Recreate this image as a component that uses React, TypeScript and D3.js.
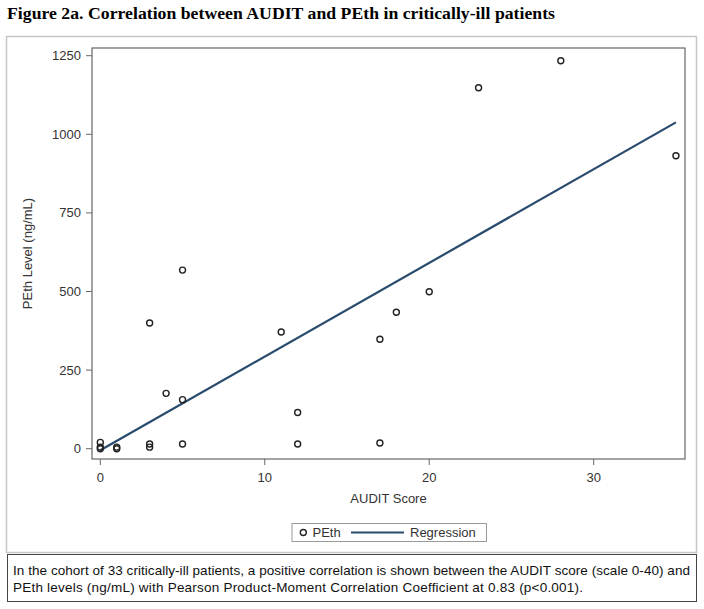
import React from 'react'
import * as d3 from 'd3'

// values
const auditScores = [0, 0, 0, 1, 1, 3, 3, 3, 4, 5, 5, 5, 11, 12, 12, 17, 17, 18, 20, 23, 28, 35]
const pethLevels = [20, 5, 0, 5, 0, 15, 5, 400, 176, 156, 568, 15, 371, 115, 15, 348, 18, 434, 499, 1148, 1234, 932]
const xTicks = [0, 10, 20, 30]
const yTicks = [0, 250, 500, 750, 1000, 1250]
const regIntercept = -5
const regSlope = 29.8
const regRange = [0, 35]

const title = 'Figure 2a. Correlation between AUDIT and PEth in critically-ill patients'
const captionLines = [
  'In the cohort of 33 critically-ill patients, a positive correlation is shown between the AUDIT score (scale 0-40) and',
  'PEth levels (ng/mL) with Pearson Product-Moment Correlation Coefficient at 0.83 (p<0.001).',
]
const captionWidths = [677, 570]

const W = 704
const H = 609
const plot = { left: 92, right: 685, top: 48, bottom: 459 }
const sans = 'Arial, "Liberation Sans", sans-serif'
const lineColor = '#284a6c'

const App = () => {
  const x = d3.scaleLinear().domain([0, 30]).range([100.3, 593.7])
  const y = d3.scaleLinear().domain([0, 1250]).range([448.7, 55.7])

  const points = auditScores.map((a, i) => ({ a, p: pethLevels[i] }))
  const reg = d3
    .line<number>()
    .x((d) => x(d))
    .y((d) => y(regIntercept + regSlope * d))

  return (
    <svg width={W} height={H} style={{ position: 'absolute', left: 0, top: 0, background: '#fff' }}>
      <text
        x={7}
        y={18.5}
        fontFamily='"Liberation Serif", "Times New Roman", serif'
        fontWeight="bold"
        fontSize={17.7}
        textLength={548}
        lengthAdjust="spacing"
        fill="#000"
      >
        {title}
      </text>

      {/* outer graph frame */}
      <rect x={6.5} y={36.5} width={690} height={516} fill="none" stroke="#c6c6c6" strokeWidth={1.5} />

      {/* plot area */}
      <rect x={plot.left} y={plot.top} width={plot.right - plot.left} height={plot.bottom - plot.top} fill="none" stroke="#666" strokeWidth={1.2} />

      {/* y axis */}
      {yTicks.map((t) => (
        <g key={'y' + t}>
          <line x1={plot.left - 6} x2={plot.left} y1={y(t)} y2={y(t)} stroke="#666" />
          <text x={plot.left - 11} y={y(t)} dy="0.35em" textAnchor="end" fontFamily={sans} fontSize={13} fill="#333">
            {t}
          </text>
        </g>
      ))}
      <text
        transform={`translate(32,${(plot.top + plot.bottom) / 2}) rotate(-90)`}
        textAnchor="middle"
        fontFamily={sans}
        fontSize={13}
        fill="#333"
      >
        PEth Level (ng/mL)
      </text>

      {/* x axis */}
      {xTicks.map((t) => (
        <g key={'x' + t}>
          <line x1={x(t)} x2={x(t)} y1={plot.bottom} y2={plot.bottom + 6} stroke="#666" />
          <text x={x(t)} y={482} textAnchor="middle" fontFamily={sans} fontSize={13} fill="#333">
            {t}
          </text>
        </g>
      ))}
      <text x={(plot.left + plot.right) / 2} y={503} textAnchor="middle" fontFamily={sans} fontSize={13} fill="#333">
        AUDIT Score
      </text>

      {/* regression */}
      <path d={reg(regRange) || ''} fill="none" stroke={lineColor} strokeWidth={2.2} />

      {/* points */}
      {points.map((d, i) => (
        <circle key={i} cx={x(d.a)} cy={y(d.p)} r={3} fill="none" stroke="#222" strokeWidth={1.4} />
      ))}

      {/* legend */}
      <rect x={292} y={523.5} width={194.5} height={18} fill="#fff" stroke="#999" />
      <circle cx={303.3} cy={532.5} r={3} fill="none" stroke="#222" strokeWidth={1.4} />
      <text x={312.5} y={537} fontFamily={sans} fontSize={13} fill="#333">PEth</text>
      <line x1={351} x2={404} y1={532.5} y2={532.5} stroke={lineColor} strokeWidth={2.2} />
      <text x={410} y={537} fontFamily={sans} fontSize={13} fill="#333">Regression</text>

      {/* caption */}
      <rect x={7.5} y={554.5} width={689} height={47} fill="#fff" stroke="#444" strokeWidth={1} />
      {captionLines.map((l, i) => (
        <text
          key={i}
          x={13}
          y={575 + i * 16.5}
          fontFamily={sans}
          fontSize={13.5}
          textLength={captionWidths[i]}
          lengthAdjust="spacing"
          fill="#111"
        >
          {l}
        </text>
      ))}
    </svg>
  )
}

export default App
